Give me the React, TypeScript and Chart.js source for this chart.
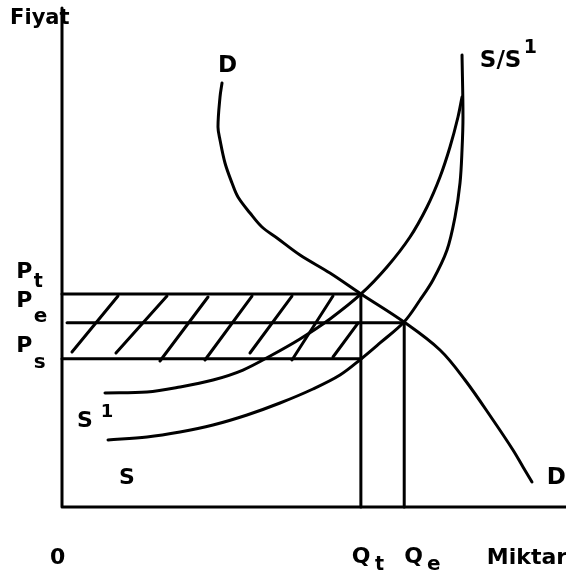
import React, { useEffect, useRef } from "react";
import { Chart, registerables } from "chart.js";

Chart.register(...registerables);

// Equilibrium / tax values (axis units 0..100)
const Qt = 59.3;
const Qe = 67.9;
const Pt = 42.7;
const Pe = 36.9;
const Ps = 29.7;

// Demand curve D
const demandX = [31.75, 31.35, 30.95, 31.35, 32.34, 33.73, 34.92, 37.3, 39.68, 42.66, 47.22, 53.17, 59.33, 67.86, 75.0, 79.96, 85.52, 89.48, 91.47, 93.25];
const demandY = [84.97, 82.16, 76.15, 73.55, 68.94, 64.93, 62.12, 58.92, 56.11, 53.91, 50.5, 46.89, 42.69, 37.07, 31.46, 25.45, 17.43, 11.42, 8.02, 5.01];

// Supply curve with tax (s1)
const supplyTaxX = [8.53, 16.87, 23.41, 29.96, 35.91, 41.67, 47.22, 53.17, 59.33, 64.48, 69.05, 72.42, 75.0, 76.98, 78.57, 79.37];
const supplyTaxY = [22.85, 23.05, 24.05, 25.45, 27.45, 30.46, 33.67, 37.68, 42.69, 48.1, 54.11, 60.12, 66.13, 72.14, 78.16, 82.16];

// Supply curve (s)
const supplyX = [9.13, 16.87, 23.41, 29.96, 36.71, 43.25, 49.8, 55.16, 59.33, 63.1, 67.86, 71.03, 73.61, 76.39, 77.98, 78.97, 79.37, 79.56, 79.37];
const supplyY = [13.43, 14.03, 15.03, 16.43, 18.44, 20.84, 23.65, 26.45, 29.66, 32.87, 37.07, 41.48, 45.49, 51.5, 58.12, 64.93, 71.54, 78.16, 90.58];

// Hatch strokes in the tax area
const hatchStartX = [1.98, 10.71, 19.44, 28.37, 37.3, 45.63, 53.77];
const hatchStartY = [31.06, 30.86, 29.26, 29.46, 30.86, 29.46, 30.06];
const hatchEndX = [11.11, 20.83, 28.97, 37.7, 45.63, 53.77, 58.73];
const hatchEndY = [42.28, 42.28, 42.08, 42.28, 42.28, 42.28, 36.87];

// Axes
const axisX = [0, 0, 100];
const axisY = [100, 0, 0];

const pts = (xs: number[], ys: number[]) => xs.map((x, i) => ({ x, y: ys[i] }));

const FONT = '"DejaVu Sans", "Liberation Sans", Arial, sans-serif';

type Lbl = { t: string; x: number; y: number; size: number };
const labels: Lbl[] = [
  { t: "Fiyat", x: -10.3, y: 96.8, size: 21 },
  { t: "D", x: 30.95, y: 87.2, size: 23 },
  { t: "S/S", x: 82.9, y: 88.2, size: 23 },
  { t: "1", x: 91.6, y: 91.0, size: 19 },
  { t: "P", x: -9.1, y: 45.9, size: 22 },
  { t: "t", x: -5.6, y: 44.1, size: 19 },
  { t: "P", x: -9.1, y: 40.1, size: 22 },
  { t: "e", x: -5.6, y: 37.1, size: 20 },
  { t: "P", x: -9.1, y: 31.1, size: 22 },
  { t: "s", x: -5.6, y: 27.9, size: 20 },
  { t: "S", x: 3.0, y: 16.0, size: 22 },
  { t: "1", x: 7.7, y: 18.0, size: 18 },
  { t: "S", x: 11.3, y: 4.6, size: 22 },
  { t: "D", x: 96.2, y: 4.6, size: 23 },
  { t: "0", x: -2.4, y: -11.4, size: 22 },
  { t: "Q", x: 57.5, y: -11.2, size: 22 },
  { t: "t", x: 62.1, y: -12.6, size: 19 },
  { t: "Q", x: 67.9, y: -11.2, size: 22 },
  { t: "e", x: 72.4, y: -12.6, size: 20 },
  { t: "Miktar", x: 84.3, y: -11.4, size: 22 },
];

const textPlugin = {
  id: "econLabels",
  afterDraw(chart: any) {
    const { ctx, scales } = chart;
    const xs = scales.x;
    const ys = scales.y;
    ctx.save();
    ctx.fillStyle = "#000";
    ctx.textBaseline = "alphabetic";
    ctx.textAlign = "left";
    for (const l of labels) {
      ctx.font = `bold ${l.size}px ${FONT}`;
      ctx.fillText(l.t, xs.getPixelForValue(l.x), ys.getPixelForValue(l.y));
    }
    ctx.restore();
  },
};

export default function App() {
  const ref = useRef<HTMLCanvasElement | null>(null);

  useEffect(() => {
    if (!ref.current) return;
    const line = (data: { x: number; y: number }[], tension = 0, width = 3) => ({
      data,
      showLine: true,
      borderColor: "#000",
      backgroundColor: "#000",
      borderWidth: width,
      pointRadius: 0,
      pointHoverRadius: 0,
      tension,
      fill: false,
      clip: false as const,
      borderCapStyle: "round" as const,
      borderJoinStyle: "round" as const,
    });

    const datasets: any[] = [
      line(pts(axisX, axisY), 0, 3),
      line([{ x: 0, y: Pt }, { x: Qt, y: Pt }], 0, 3),
      line([{ x: 1, y: Pe }, { x: Qe, y: Pe }], 0, 3),
      line([{ x: 0, y: Ps }, { x: Qt, y: Ps }], 0, 3),
      line([{ x: Qt, y: Pt }, { x: Qt, y: 0 }], 0, 3),
      line([{ x: Qe, y: Pe }, { x: Qe, y: 0 }], 0, 3),
      line(pts(demandX, demandY), 0.35, 3),
      line(pts(supplyTaxX, supplyTaxY), 0.35, 3),
      line(pts(supplyX, supplyY), 0.35, 3),
      ...hatchStartX.map((x, i) =>
        line([{ x, y: hatchStartY[i] }, { x: hatchEndX[i], y: hatchEndY[i] }], 0, 3)
      ),
    ];

    const chart = new Chart(ref.current, {
      type: "scatter",
      data: { datasets },
      options: {
        animation: false,
        responsive: true,
        maintainAspectRatio: false,
        devicePixelRatio: 1,
        layout: { padding: { left: 62, right: 0, top: 8, bottom: 64 } },
        plugins: { legend: { display: false }, tooltip: { enabled: false } },
        events: [],
        scales: {
          x: { type: "linear", min: 0, max: 100, display: false },
          y: { type: "linear", min: 0, max: 100, display: false },
        },
      },
      plugins: [textPlugin],
    });
    return () => chart.destroy();
  }, []);

  return (
    <div style={{ position: "fixed", left: 0, top: 0, width: 566, height: 571, background: "#fff" }}>
      <canvas ref={ref} />
    </div>
  );
}
